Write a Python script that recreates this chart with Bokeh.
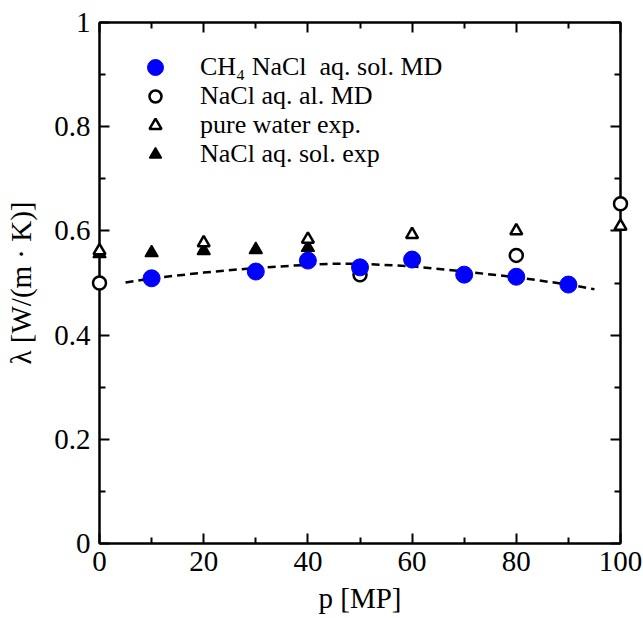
from bokeh.plotting import figure
from bokeh.models import Range1d, FixedTicker, LinearAxis, Legend, LegendItem
from bokeh.embed import file_html
from bokeh.resources import INLINE

# ---- data ----
md_p = [10, 30, 40, 50, 60, 70, 80, 90]
md_lam = [0.509, 0.522, 0.543, 0.530, 0.545, 0.516, 0.512, 0.497]

al_p = [0, 50, 80, 100]
al_lam = [0.500, 0.516, 0.553, 0.652]

pw_p = [0, 20, 40, 60, 80, 100]
pw_lam = [0.562, 0.577, 0.584, 0.593, 0.600, 0.609]

ns_p = [0, 10, 20, 30, 40]
ns_lam = [0.556, 0.558, 0.562, 0.564, 0.568]

fit_p = [5, 10, 20, 30, 40, 45, 50, 60, 70, 80, 90, 95]
fit_lam = [0.501, 0.509, 0.520, 0.529, 0.535, 0.537, 0.537, 0.532, 0.522, 0.511, 0.497, 0.488]

x_ticks = [0, 20, 40, 60, 80, 100]
x_minor = [10, 30, 50, 70, 90]
y_ticks = [0, 0.2, 0.4, 0.6, 0.8, 1.0]
y_minor = [0.1, 0.3, 0.5, 0.7, 0.9]
y_labels = {0: "0", 0.2: "0.2", 0.4: "0.4", 0.6: "0.6", 0.8: "0.8", 1.0: "1"}

legend_labels = ["CH₄ NaCl\u00a0 aq. sol. MD", "NaCl aq. al. MD", "pure water exp.", "NaCl aq. sol. exp"]

FONT = "Liberation Serif"
FS = "29px"
LFS = "26px"

p = figure(width=643, height=618, output_backend="svg", toolbar_location=None,
           x_range=Range1d(0, 100), y_range=Range1d(0, 1),
           x_axis_label="p [MP]", y_axis_label="λ [W/(m · K)]",
           min_border_left=99, min_border_right=23, min_border_top=22, min_border_bottom=75)
p.grid.visible = False
p.outline_line_color = "black"
p.outline_line_width = 2
p.background_fill_color = "white"
p.border_fill_color = "white"


def style_axis(ax, ticks, minor, labels=True):
    ax.ticker = FixedTicker(ticks=ticks, minor_ticks=minor)
    ax.axis_line_color = "black"
    ax.axis_line_width = 2
    ax.major_tick_line_width = 2
    ax.minor_tick_line_width = 2
    ax.major_tick_in = 10
    ax.major_tick_out = 0
    ax.minor_tick_in = 6
    ax.minor_tick_out = 0
    ax.major_label_text_font = FONT
    ax.major_label_text_font_size = FS
    ax.major_label_text_color = "black"
    ax.axis_label_text_font = FONT
    ax.axis_label_text_font_size = FS
    ax.axis_label_text_font_style = "normal"
    ax.axis_label_text_color = "black"
    if not labels:
        ax.major_label_text_font_size = "0px"
        ax.major_label_text_alpha = 0


xa = p.xaxis[0]
ya = p.yaxis[0]
style_axis(xa, x_ticks, x_minor)
style_axis(ya, y_ticks, y_minor)
ya.major_label_overrides = y_labels
xa.major_label_standoff = 8
ya.major_label_standoff = 9
xa.axis_label_standoff = 8
ya.axis_label_standoff = 14

top = LinearAxis()
style_axis(top, x_ticks, x_minor, labels=False)
p.add_layout(top, "above")
right = LinearAxis()
style_axis(right, y_ticks, y_minor, labels=False)
p.add_layout(right, "right")

r_fit = p.line(fit_p, fit_lam, line_color="black", line_width=2.5, line_dash="8 5")
r_ns = p.scatter(ns_p, ns_lam, marker="triangle", size=13, fill_color="black",
                 line_color="black", line_width=1.5)
r_pw = p.scatter(pw_p, pw_lam, marker="triangle", size=12, fill_color="white",
                 line_color="black", line_width=2.5)
r_al = p.scatter(al_p, al_lam, marker="circle", size=13, fill_color="white",
                 line_color="black", line_width=2.5)
r_md = p.scatter(md_p, md_lam, marker="circle", size=17, fill_color="#0000ff",
                 line_color="#0000ff", line_width=1)
for r in (r_ns, r_pw, r_al, r_md):
    r.level = "overlay"


def make_legend(label, renderer, loc, gw, gh, standoff):
    lg = Legend(items=[LegendItem(label=label, renderers=[renderer])], location=loc)
    lg.padding = 0
    lg.margin = 0
    lg.spacing = 0
    lg.glyph_width = gw
    lg.glyph_height = gh
    lg.label_height = 27
    lg.label_standoff = standoff
    lg.label_text_font = FONT
    lg.label_text_font_size = LFS
    lg.label_text_color = "black"
    lg.border_line_alpha = 0
    lg.background_fill_alpha = 0
    p.add_layout(lg, "center")
    return lg


make_legend(legend_labels[0], r_md, (36, 456), 40, 40, 25)
make_legend(legend_labels[1], r_al, (41, 430), 30, 34, 30)
make_legend(legend_labels[2], r_pw, (41, 401), 30, 34, 30)
make_legend(legend_labels[3], r_ns, (41, 372), 30, 34, 30)

open("out.html", "w").write(file_html(p, INLINE))
